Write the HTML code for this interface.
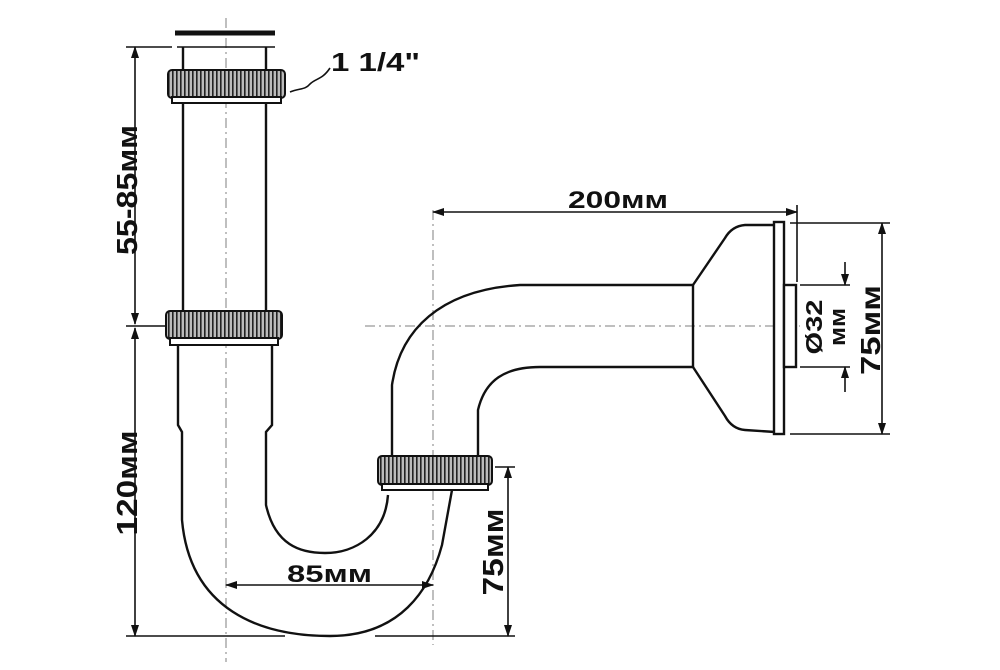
<!DOCTYPE html>
<html><head><meta charset="utf-8"><style>
html,body{margin:0;padding:0;background:#fff}
svg{display:block}
text{font-family:"Liberation Sans",sans-serif;font-weight:bold;fill:#111}
</style></head><body>
<svg width="1000" height="670" viewBox="0 0 1000 670" xmlns="http://www.w3.org/2000/svg">
<defs>
<marker id="a" markerWidth="12" markerHeight="8" refX="11" refY="4" orient="auto-start-reverse" markerUnits="userSpaceOnUse">
<path d="M0,0 L12,4 L0,8 Z" fill="#111"/></marker>
<pattern id="k" width="4" height="10" patternUnits="userSpaceOnUse">
<rect width="4" height="10" fill="#bbb"/><rect width="1.6" height="10" fill="#222"/></pattern>
</defs>
<g stroke="#aaa" stroke-width="1.5" stroke-dasharray="10,4,2,4" fill="none">
<line x1="226" y1="18" x2="226" y2="662"/>
<line x1="433" y1="210" x2="433" y2="645"/>
<line x1="365" y1="326" x2="800" y2="326"/>
</g>
<g stroke="#111" stroke-width="2.4" fill="none">
<line x1="175" y1="33" x2="275" y2="33" stroke-width="5"/>
<line x1="183" y1="47" x2="183" y2="312"/>
<line x1="266" y1="47" x2="266" y2="312"/>
<path d="M178,345 L178,425 L182,432 L182,520 C190,610 260,636 330,636 C400,636 430,590 442,545 L452,490"/>
<path d="M272,345 L272,425 L266,432 L266,505 C275,545 300,553 325,553 C355,553 385,535 388,495"/>
<path d="M392,455 L392,385 C400,330 440,290 520,285 L693,285"/>
<path d="M478,455 L478,410 C485,380 505,367 540,367 L693,367"/>
<path d="M693,285 L693,367"/>
<path d="M693,285 L725,238 Q732,226 745,225 L775,225 M693,367 L725,416 Q732,429 745,430 L775,432"/>
<rect x="774" y="222" width="10" height="212" fill="#fff"/>
<rect x="784" y="285" width="12" height="82" fill="#fff"/>
</g>
<g stroke="#111" stroke-width="2">
<rect x="168" y="70" width="117" height="28" rx="4" fill="url(#k)"/>
<rect x="172" y="97" width="109" height="6" fill="#fff"/>
<rect x="166" y="311" width="116" height="28" rx="4" fill="url(#k)"/>
<rect x="170" y="338" width="108" height="7" fill="#fff"/>
<rect x="378" y="456" width="114" height="29" rx="4" fill="url(#k)"/>
<rect x="382" y="484" width="106" height="6" fill="#fff"/>
</g>
<g stroke="#111" stroke-width="1.6" fill="none">
<line x1="126" y1="47" x2="172" y2="47"/><line x1="177" y1="47" x2="275" y2="47"/>
<line x1="126" y1="326" x2="165" y2="326"/>
<line x1="126" y1="636" x2="285" y2="636"/><line x1="375" y1="636" x2="515" y2="636"/>
<line x1="135" y1="47" x2="135" y2="324" marker-start="url(#a)" marker-end="url(#a)"/>
<line x1="135" y1="328" x2="135" y2="636" marker-start="url(#a)" marker-end="url(#a)"/>
<line x1="226" y1="585" x2="433" y2="585" marker-start="url(#a)" marker-end="url(#a)"/>
<line x1="495" y1="467" x2="515" y2="467"/>
<line x1="508" y1="467" x2="508" y2="636" marker-start="url(#a)" marker-end="url(#a)"/>
<line x1="433" y1="212" x2="797" y2="212" marker-start="url(#a)" marker-end="url(#a)"/>
<line x1="797" y1="205" x2="797" y2="282"/>
<line x1="790" y1="223" x2="890" y2="223"/><line x1="790" y1="434" x2="890" y2="434"/>
<line x1="882" y1="223" x2="882" y2="434" marker-start="url(#a)" marker-end="url(#a)"/>
<line x1="800" y1="285" x2="850" y2="285"/><line x1="800" y1="367" x2="850" y2="367"/>
<line x1="845" y1="262" x2="845" y2="285" marker-end="url(#a)"/>
<line x1="845" y1="392" x2="845" y2="367" marker-end="url(#a)"/>
<path d="M290,92 C300,88 305,90 310,84 C316,78 322,80 330,68"/>
</g>
<text x="331" y="71" font-size="26" textLength="89" lengthAdjust="spacingAndGlyphs">1 1/4"</text>
<text x="568" y="208" font-size="24" textLength="100" lengthAdjust="spacingAndGlyphs">200мм</text>
<text x="287" y="582" font-size="24" textLength="85" lengthAdjust="spacingAndGlyphs">85мм</text>
<text transform="translate(137,190) rotate(-90)" font-size="29" text-anchor="middle" textLength="130" lengthAdjust="spacingAndGlyphs">55-85мм</text>
<text transform="translate(137,483) rotate(-90)" font-size="29" text-anchor="middle" textLength="105" lengthAdjust="spacingAndGlyphs">120мм</text>
<text transform="translate(503,552) rotate(-90)" font-size="29" text-anchor="middle" textLength="87" lengthAdjust="spacingAndGlyphs">75мм</text>
<text transform="translate(880,330) rotate(-90)" font-size="28" text-anchor="middle" textLength="90" lengthAdjust="spacingAndGlyphs">75мм</text>
<text transform="translate(822,327) rotate(-90)" font-size="23" text-anchor="middle" textLength="55" lengthAdjust="spacingAndGlyphs">Ø32</text>
<text transform="translate(845,327) rotate(-90)" font-size="22" text-anchor="middle" textLength="38" lengthAdjust="spacingAndGlyphs">мм</text>
</svg>
</body></html>
